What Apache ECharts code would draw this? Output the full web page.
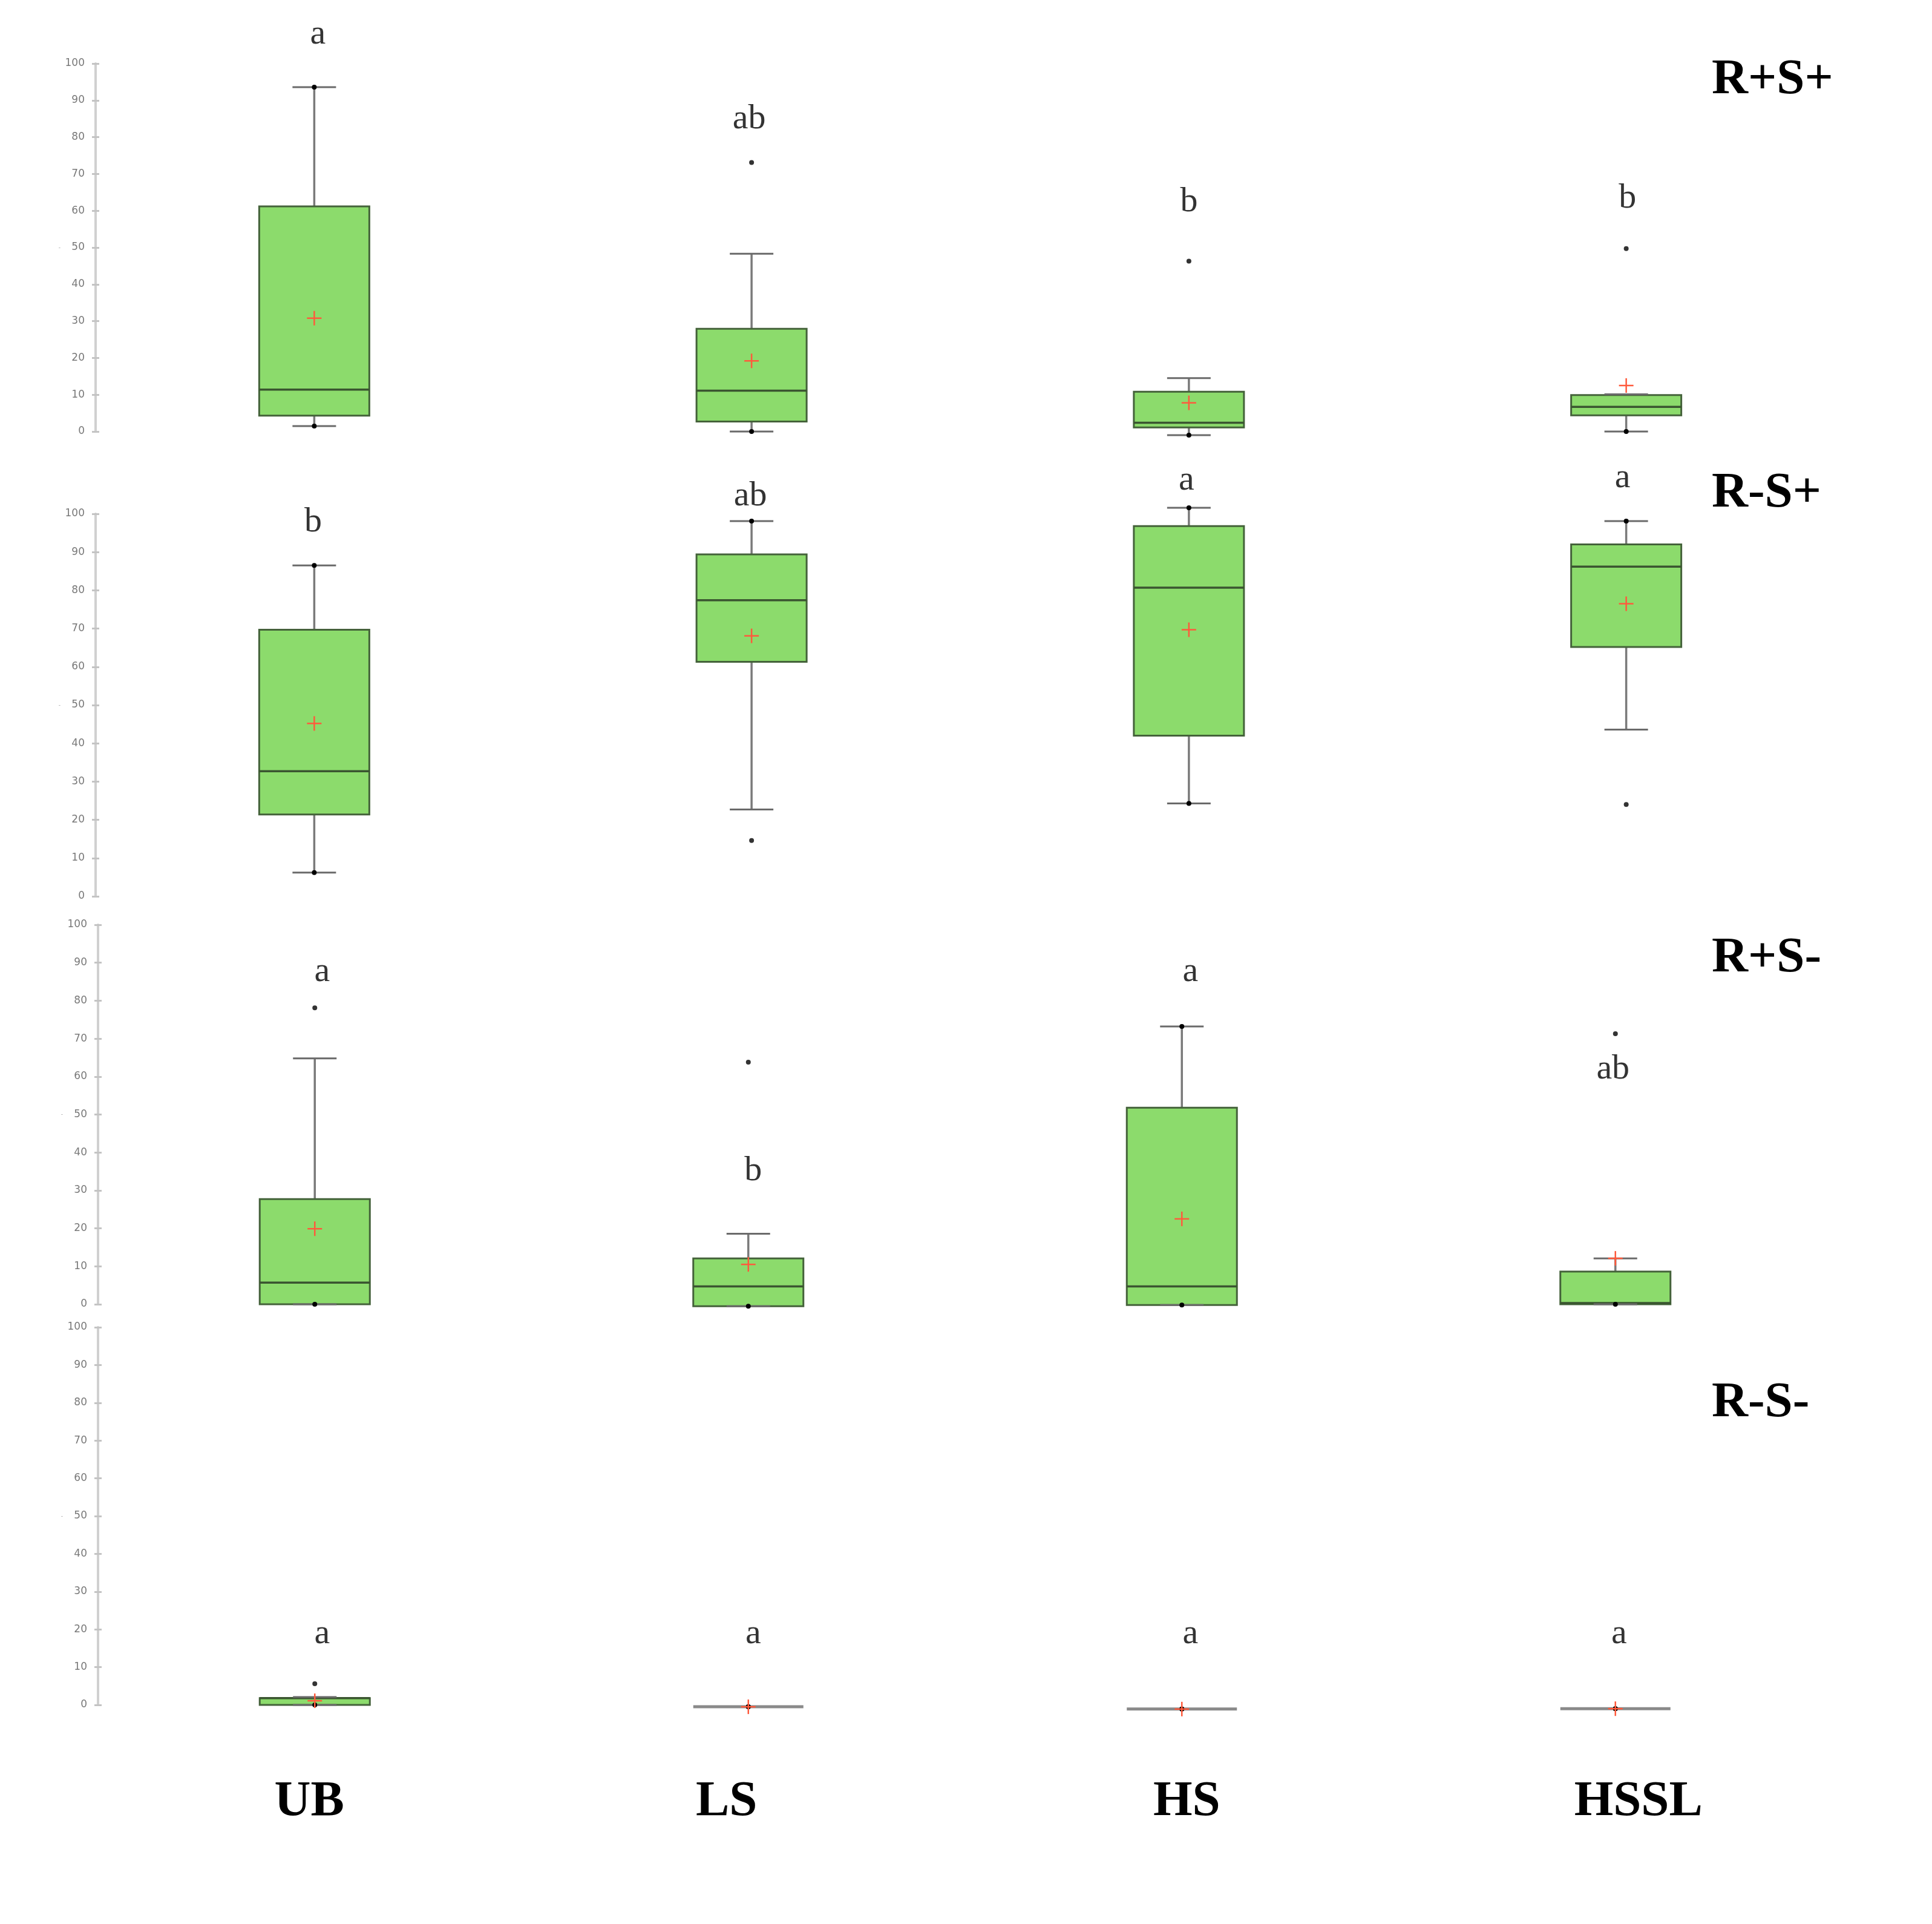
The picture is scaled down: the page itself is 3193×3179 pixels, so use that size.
<!DOCTYPE html>
<html><head><meta charset="utf-8">
<script src="https://cdn.jsdelivr.net/npm/echarts@6/dist/echarts.min.js"></script>
<style>html,body{margin:0;padding:0;background:#fff}#c{width:3193px;height:3179px}</style>
</head><body><div id="c"></div>
<script>
// ---------------- data ----------------
const categories = ['UB', 'LS', 'HS', 'HSSL'];
const panelNames = ['R+S+', 'R-S+', 'R+S-', 'R-S-'];
const yMin = 0, yMax = 100, yInterval = 10;

// [whisker low, Q1, median, Q3, whisker high] per category
const boxRpSp = [[1.5, 4.3, 11.4, 61.2, 93.6], [0, 2.7, 11.1, 27.9, 48.3], [-1.0, 1.1, 2.4, 10.8, 14.5], [0, 4.4, 6.7, 9.9, 10.1]];
const meanRpSp = [30.8, 19.2, 7.8, 12.5];
const outRpSp = [[1, 73.1], [2, 46.3], [3, 49.7]];
const letterRpSp = ['a', 'ab', 'b', 'b'];
const letterYRpSp = [107.9, 84.9, 62.3, 63.3];

const boxRmSp = [[6.2, 21.4, 32.7, 69.7, 86.5], [22.7, 61.3, 77.4, 89.4, 98.1], [24.3, 42.0, 80.7, 96.8, 101.6], [43.6, 65.2, 86.2, 92.0, 98.1]];
const meanRmSp = [45.2, 68.1, 69.7, 76.5];
const outRmSp = [[1, 14.6], [3, 24.0]];
const letterRmSp = ['b', 'ab', 'a', 'a'];
const letterYRmSp = [97.8, 104.6, 108.7, 109.3];

const boxRpSm = [[0, 0, 5.7, 27.7, 64.8], [-0.5, -0.5, 4.7, 12.1, 18.6], [-0.2, -0.2, 4.7, 51.8, 73.2], [0, 0, 0.3, 8.6, 12.1]];
const meanRpSm = [19.9, 10.5, 22.5, 12.1];
const outRpSm = [[0, 78.1], [1, 63.8], [3, 71.3]];
const letterRpSm = ['a', 'b', 'a', 'ab'];
const letterYRpSm = [87.6, 35.2, 87.6, 61.9];

const boxRmSm = [[0, 0, 1.8, 1.8, 2.1], [-0.5, -0.5, -0.5, -0.5, -0.5], [-1.1, -1.1, -1.1, -1.1, -1.1], [-1.0, -1.0, -1.0, -1.0, -1.0]];
const meanRmSm = [1.1, -0.5, -1.1, -1.0];
const outRmSm = [[0, 5.6]];
const letterRmSm = ['a', 'a', 'a', 'a'];
const letterYRmSm = [18.8, 18.8, 18.8, 18.8];

const panels = [
  {box: boxRpSp, mean: meanRpSp, out: outRpSp, letters: letterRpSp, letterY: letterYRpSp},
  {box: boxRmSp, mean: meanRmSp, out: outRmSp, letters: letterRmSp, letterY: letterYRmSp},
  {box: boxRpSm, mean: meanRpSm, out: outRpSm, letters: letterRpSm, letterY: letterYRpSm},
  {box: boxRmSm, mean: meanRmSm, out: outRmSm, letters: letterRmSm, letterY: letterYRmSm}
];

// ---------------- layout / style ----------------
const gridLayout = [
  {left: 158, top: 105, width: 2891, height: 608},
  {left: 158, top: 849, width: 2891, height: 632},
  {left: 162, top: 1528, width: 2866, height: 627},
  {left: 162, top: 2193, width: 2866, height: 624}
];
const letterShiftPx = [[6, -4, 0, 2], [-2, -2, -4, -6], [12, 8, 14, -4], [12, 8, 14, 6]];
const titleY = [133, 816, 1584, 2319];
const catLabelShift = [-9, -36, 8, 38];
const BOX_HALF = 91, CAP_HALF = 36;

function renderBox(params, api) {
  const ci = api.value(0);
  const x = api.coord([ci, 0])[0];
  const Y = k => api.coord([ci, api.value(k)])[1];
  const yl = Y(1), y1 = Y(2), ym = Y(3), y3 = Y(4), yh = Y(5), yMean = Y(6);
  const dotLow = api.value(7), dotHigh = api.value(8);
  const wStyle = {stroke: '#7a7a7a', lineWidth: 3.5};
  const cStyle = {stroke: '#6a6a6a', lineWidth: 3};
  const ch = [];
  ch.push({type: 'line', shape: {x1: x, y1: y3, x2: x, y2: yh}, style: wStyle});
  ch.push({type: 'line', shape: {x1: x, y1: y1, x2: x, y2: yl}, style: wStyle});
  const degenerate = Math.abs(y1 - y3) < 0.5;
  ch.push({type: 'rect', shape: {x: x - BOX_HALF, y: y3, width: 2 * BOX_HALF, height: Math.max(y1 - y3, 0)},
    style: degenerate ? {fill: 'none', stroke: '#8a8a8a', lineWidth: 5} : {fill: '#8cdb6c', stroke: '#44623a', lineWidth: 3}});
  if (!degenerate) {
    ch.push({type: 'line', shape: {x1: x - BOX_HALF, y1: ym, x2: x + BOX_HALF, y2: ym}, style: {stroke: '#3a5530', lineWidth: 3.5}});
    ch.push({type: 'line', shape: {x1: x - CAP_HALF, y1: yh, x2: x + CAP_HALF, y2: yh}, style: cStyle});
    ch.push({type: 'line', shape: {x1: x - CAP_HALF, y1: yl, x2: x + CAP_HALF, y2: yl}, style: cStyle});
  }
  if (dotLow) ch.push({type: 'circle', shape: {cx: x, cy: yl, r: 4}, style: {fill: '#000'}});
  if (dotHigh) ch.push({type: 'circle', shape: {cx: x, cy: yh, r: 4}, style: {fill: '#000'}});
  const cs = {stroke: '#ff5a3c', lineWidth: 2.5};
  ch.push({type: 'line', shape: {x1: x - 12, y1: yMean, x2: x + 12, y2: yMean}, style: cs});
  ch.push({type: 'line', shape: {x1: x, y1: yMean - 12, x2: x, y2: yMean + 12}, style: cs});
  return {type: 'group', children: ch};
}

const grids = [], xAxes = [], yAxes = [], series = [], graphics = [];
panels.forEach((p, i) => {
  const g = gridLayout[i];
  grids.push({left: g.left, top: g.top, width: g.width, height: g.height, containLabel: false});
  const last = i === panels.length - 1;
  xAxes.push({
    gridIndex: i, type: 'category', boundaryGap: true,
    data: categories.map((c, k) => {
      const s = catLabelShift[k];
      return {value: c, textStyle: {padding: s < 0 ? [0, -2 * s, 0, 0] : [0, 0, 0, 2 * s]}};
    }),
    axisLine: {show: false}, axisTick: {show: false}, splitLine: {show: false},
    axisLabel: last ? {show: true, margin: 119, verticalAlign: 'middle', fontFamily: 'Liberation Serif', fontWeight: 'bold', fontSize: 83, color: '#000'} : {show: false}
  });
  yAxes.push({
    gridIndex: i, type: 'value', position: 'left', min: yMin, max: yMax, interval: yInterval,
    axisLine: {show: true, lineStyle: {color: '#d0d0d0', width: 4}},
    axisTick: {show: true, length: 6, lineStyle: {color: '#c4c4c4', width: 3}},
    axisLabel: {color: '#787878', fontSize: 17, fontFamily: 'DejaVu Sans', margin: 18},
    splitLine: {show: false},
    name: '-', nameLocation: 'middle', nameGap: 58, nameRotate: 0,
    nameTextStyle: {color: '#b0b0b0', fontSize: 10}
  });
  yAxes.push({
    gridIndex: i, type: 'value', position: 'left', min: yMin, max: yMax, interval: yInterval,
    axisLine: {show: false},
    axisTick: {show: true, inside: true, length: 6, lineStyle: {color: '#c4c4c4', width: 3}},
    axisLabel: {show: false}, splitLine: {show: false}
  });
  const boxData = p.box.map((b, k) => {
    const hasLowOut = p.out.some(o => o[0] === k && o[1] < b[0]);
    const hasHighOut = p.out.some(o => o[0] === k && o[1] > b[4]);
    return [k, b[0], b[1], b[2], b[3], b[4], p.mean[k], hasLowOut ? 0 : 1, hasHighOut ? 0 : 1];
  });
  series.push({
    type: 'custom', xAxisIndex: i, yAxisIndex: 2 * i, renderItem: renderBox,
    encode: {x: 0, y: [1, 2, 3, 4, 5, 6]}, data: boxData, clip: false, z: 2
  });
  series.push({
    type: 'scatter', xAxisIndex: i, yAxisIndex: 2 * i, symbol: 'circle', symbolSize: 8,
    itemStyle: {color: '#000'}, data: p.out, clip: false, z: 3
  });
  series.push({
    type: 'scatter', xAxisIndex: i, yAxisIndex: 2 * i, symbolSize: 1,
    itemStyle: {color: 'rgba(0,0,0,0)'}, clip: false, z: 4,
    label: {show: true, position: 'inside', formatter: q => q.name, fontFamily: 'Liberation Serif', fontSize: 58, color: '#000'},
    data: p.letters.map((t, k) => ({name: t, value: [k, p.letterY[k]], label: {offset: [letterShiftPx[i][k], 0]}}))
  });
  graphics.push({
    type: 'text', x: 2829, y: titleY[i],
    style: {text: panelNames[i], fontFamily: 'Liberation Serif', fontWeight: 'bold', fontSize: 83, fill: '#000', align: 'left', verticalAlign: 'middle'}
  });
});

const chart = echarts.init(document.getElementById('c'), null, {renderer: 'canvas'});
chart.setOption({
  animation: false,
  backgroundColor: '#ffffff',
  grid: grids, xAxis: xAxes, yAxis: yAxes, series: series, graphic: graphics
});
</script>
</body></html>
